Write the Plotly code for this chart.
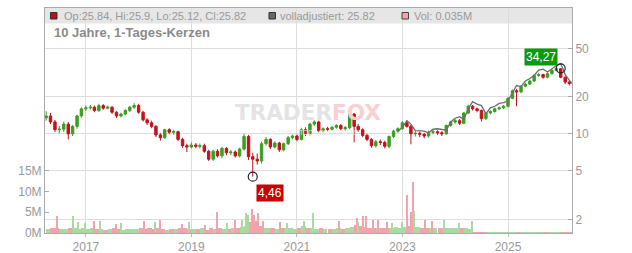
import plotly.graph_objects as go
import pandas as pd
import math

# ---------------- data (monthly candles) ----------------
months = pd.date_range("2016-04-01", "2026-03-01", freq="MS")

open_ = [13.5,14.0,12.5,10.8,10.9,12.0,10.0,11.5,14.0,
         16.0,16.3,16.5,15.5,17.0,16.2,16.5,15.0,14.0,14.5,15.5,16.5,
         17.0,15.0,13.0,12.3,11.5,9.8,9.3,10.8,10.3,10.4,9.0,8.0,
         7.8,8.1,7.9,8.0,7.2,6.2,7.2,6.6,7.6,7.0,7.1,6.6,
         7.5,9.5,6.5,6.2,6.0,8.3,9.0,7.8,8.4,7.4,8.3,9.3,
         9.6,9.0,10.8,10.0,12.0,12.5,10.6,11.0,10.9,11.3,11.7,11.0,
         11.2,14.5,11.5,10.8,9.7,9.0,8.0,8.6,8.5,7.9,9.5,10.5,
         11.0,12.3,11.5,10.0,10.1,9.9,9.6,10.3,10.4,10.2,10.0,11.7,
         12.5,12.8,12.2,14.8,16.8,16.0,15.5,13.3,14.8,15.2,16.0,16.3,
         16.8,19.5,22.5,22.0,24.5,25.5,27.0,30.0,30.5,29.0,31.0,33.0,
         34.0,29.0,26.5]
close = [14.0,12.5,10.8,10.9,12.0,10.0,11.5,14.0,16.0,
         16.3,16.5,15.5,17.0,16.2,16.5,15.0,14.0,14.5,15.5,16.5,17.0,
         15.0,13.0,12.3,11.5,9.8,9.3,10.8,10.3,10.4,9.0,8.0,7.8,
         8.1,7.9,8.0,7.2,6.2,7.2,6.6,7.6,7.0,7.1,6.6,7.5,
         9.5,6.5,6.2,6.0,8.3,9.0,7.8,8.4,7.4,8.3,9.3,9.6,
         9.0,10.8,10.0,12.0,12.5,10.6,11.0,10.9,11.3,11.7,11.0,11.2,
         14.5,11.5,10.8,9.7,9.0,8.0,8.6,8.5,7.9,9.5,10.5,11.0,
         12.3,11.5,10.0,10.1,9.9,9.6,10.3,10.4,10.2,10.0,11.7,12.5,
         12.8,12.2,14.8,16.8,16.0,15.5,13.3,14.8,15.2,16.0,16.3,16.8,
         19.5,22.5,22.0,24.5,25.5,27.0,30.0,30.5,29.0,31.0,33.0,34.0,
         29.0,26.5,25.82]
high = [15.3,14.8,13.0,11.6,12.6,12.5,11.8,14.3,16.5,
        17.0,17.2,17.0,17.6,17.5,17.0,16.8,15.3,14.9,15.9,16.9,17.8,
        17.6,15.4,13.4,12.8,11.8,10.1,11.0,11.1,10.8,10.6,9.3,8.3,
        8.5,8.4,8.3,8.3,7.4,7.4,7.5,7.8,7.8,7.4,7.3,7.7,
        10.0,9.8,7.0,6.9,8.6,9.4,9.2,8.7,8.6,8.5,9.6,9.9,
        10.0,11.2,11.3,12.3,12.9,12.8,11.3,11.4,11.6,12.0,12.0,11.6,
        15.1,14.8,12.0,11.1,10.0,9.2,8.9,9.0,8.8,9.7,10.8,11.3,
        12.7,12.8,11.8,10.5,10.4,10.2,10.6,10.8,10.7,10.5,11.9,12.8,
        13.2,13.2,15.1,17.3,17.2,16.4,15.8,15.1,15.6,16.4,16.7,17.2,
        20.0,23.0,23.3,25.0,26.2,27.8,30.8,31.5,31.0,31.8,33.6,33.8,
        34.27,29.5,27.0]
low = [12.8,12.0,10.3,10.1,10.3,9.0,9.6,11.0,13.5,
       15.4,15.8,15.0,15.1,15.7,15.8,14.6,13.5,13.6,14.2,15.1,16.0,
       14.6,12.6,11.8,11.1,9.4,8.8,9.1,9.9,9.8,8.7,7.7,7.1,
       7.6,7.6,7.6,7.0,6.0,6.0,6.4,6.3,6.7,6.7,6.4,6.4,
       7.3,6.1,4.46,5.6,5.7,8.0,7.5,7.6,7.1,7.2,8.1,9.0,
       8.7,8.8,9.6,9.7,11.6,10.3,10.3,10.5,10.6,11.0,10.7,10.6,
       10.9,8.5,10.4,9.4,8.7,7.7,7.7,8.1,7.6,7.6,9.2,10.2,
       10.8,11.2,8.2,9.5,9.4,9.2,9.3,9.9,9.8,9.6,9.8,11.4,
       12.1,11.8,12.0,14.5,15.5,15.0,12.6,13.0,14.4,14.9,15.6,15.9,
       16.5,19.2,16.8,21.5,24.0,25.0,26.6,29.2,28.2,28.5,30.4,32.5,
       28.5,25.5,24.8]
# typical daily volume per month, in millions
vol_month = [1.0,1.2,1.1,0.9,1.0,1.3,1.1,1.0,1.1,
             1.0,1.2,0.9,1.0,0.8,0.9,1.1,1.0,0.8,0.9,1.0,0.9,
             1.1,1.0,1.2,1.0,1.1,0.9,0.8,0.9,1.0,1.1,1.2,1.0,
             0.9,1.0,1.1,0.8,1.2,1.0,1.1,0.9,1.0,1.1,1.2,1.4,
             1.8,2.6,3.0,1.8,1.3,1.2,1.1,1.0,1.1,1.2,1.1,1.0,
             1.2,1.6,1.3,1.1,1.0,1.1,1.0,0.9,1.0,1.1,1.0,1.2,
             1.4,1.9,1.7,1.5,1.3,1.2,1.1,1.2,1.3,1.1,1.4,1.2,
             1.5,1.6,3.0,1.4,1.3,1.2,1.3,1.1,1.2,1.3,1.1,1.2,
             1.3,1.2,1.1,0.9,0.15,0.1,0.12,0.1,0.15,0.1,0.1,0.12,
             0.1,0.15,0.1,0.12,0.1,0.1,0.1,0.1,0.12,0.1,0.1,0.1,
             0.12,0.1,0.1]
# single high-volume days (millions), direction +1 up / -1 down
spike_dates = ["2016-06-18","2016-10-01","2016-11-10","2016-12-28","2017-02-28","2017-04-08",
               "2017-07-27","2017-09-05","2018-02-06","2018-04-23","2018-05-30","2018-10-26",
               "2018-12-16","2019-04-05","2019-06-28","2019-09-02","2019-10-30","2019-12-20",
               "2020-01-15","2020-01-30","2020-02-28","2020-03-13","2020-04-08","2020-05-15",
               "2020-09-05","2020-10-23","2021-02-17","2021-04-20","2021-10-23","2022-02-21",
               "2022-02-28","2022-04-05","2022-04-23","2022-06-13","2022-07-20","2022-09-20",
               "2022-10-23","2022-12-28","2023-02-02","2023-03-03","2023-03-18","2023-03-25",
               "2023-06-10","2023-07-24","2023-10-19","2024-01-30","2024-04-27"]
spike_vol = [4.2,4.2,2.6,2.4,3.0,3.0,2.2,2.4,3.0,2.6,3.2,2.2,2.6,2.0,5.0,2.4,3.2,3.2,
             4.8,4.4,5.9,4.4,4.8,2.8,2.6,2.4,2.8,4.8,3.0,3.7,2.7,4.0,4.2,3.2,3.2,2.6,
             2.4,2.6,9.1,5.1,12.4,5.3,3.2,3.0,3.2,2.4,3.0]
spike_dir = [-1,1,1,1,-1,1,-1,1,-1,1,-1,-1,1,-1,-1,1,-1,1,
             1,1,-1,-1,-1,-1,-1,1,1,1,-1,-1,1,-1,-1,-1,-1,-1,
             1,1,-1,-1,-1,1,-1,-1,1,1,1]
# fully adjusted close ("volladjustiert")
adj_dates = list(pd.date_range("2022-12-01", "2026-03-01", freq="MS").strftime("%Y-%m-%d")) + ["2026-03-20"]
adj_vals = [10.5,11.3,12.8,12.0,10.6,10.6,10.5,10.2,10.9,11.0,10.9,10.7,12.5,
            13.4,13.8,13.1,16.0,18.3,17.5,17.0,14.6,16.3,16.8,17.7,18.0,
            18.6,21.6,24.8,24.3,27.0,28.3,30.0,33.2,33.8,32.0,34.0,36.0,
            37.5,30.5,27.5,25.82]

year_ticks = ["2017-01-01", "2019-01-01", "2021-01-01", "2023-01-01", "2025-01-01"]
year_labels = ["2017", "2019", "2021", "2023", "2025"]
price_ticks = [2, 5, 10, 20, 50]
vol_ticks = [0, 5e6, 10e6, 15e6]
vol_labels = ["0M", "5M", "10M", "15M"]

# ---------------- styles ----------------
UP, DOWN = "#3a9f22", "#c4121a"
VUP, VDOWN = "#a9dba0", "#f2a3ab"
GRAY = "#999999"
FONT = "Liberation Sans, Arial, sans-serif"
DAY = 86400000

fig = go.Figure()

fig.add_trace(go.Bar(
    x=months, y=[v * 1e6 for v in vol_month],
    marker=dict(color=[VUP if c >= o else VDOWN for o, c in zip(open_, close)], line_width=0),
    width=30.4 * DAY, offset=0, yaxis="y", hoverinfo="skip"))
fig.add_trace(go.Bar(
    x=spike_dates, y=[v * 1e6 for v in spike_vol],
    marker=dict(color=[VUP if d > 0 else VDOWN for d in spike_dir], line_width=0),
    width=8 * DAY, yaxis="y", hoverinfo="skip"))

fig.add_trace(go.Scatter(
    x=adj_dates, y=adj_vals, mode="lines", line=dict(color="#6e6e6e", width=1.3),
    yaxis="y2", hoverinfo="skip"))

fig.add_trace(go.Candlestick(
    x=months, open=open_, high=high, low=low, close=close, yaxis="y2",
    increasing=dict(line=dict(color=UP, width=1), fillcolor=UP),
    decreasing=dict(line=dict(color=DOWN, width=1), fillcolor=DOWN),
    whiskerwidth=0, hoverinfo="skip"))

imax = max(range(len(high)), key=lambda i: high[i])
imin = min(range(len(low)), key=lambda i: low[i])
fig.add_trace(go.Scatter(
    x=[months[imax], months[imin]], y=[high[imax], low[imin]], mode="markers",
    marker=dict(symbol="circle-open", size=9, color="#222222", line=dict(width=1.2)),
    yaxis="y2", hoverinfo="skip"))

def fmt(v):
    return f"{v:.2f}".replace(".", ",")

annotations = [
    dict(x=months[imax], y=math.log10(high[imax]), xref="x", yref="y2",
         text=fmt(high[imax]), showarrow=False, xanchor="right", yanchor="bottom",
         xshift=-3, yshift=2, bgcolor="#0a9a0a", borderpad=1,
         font=dict(family=FONT, size=12, color="white")),
    dict(x=months[imin], y=math.log10(low[imin]), xref="x", yref="y2",
         text=fmt(low[imin]), showarrow=False, xanchor="left", yanchor="top",
         xshift=3, yshift=-7, bgcolor="#cc0000", borderpad=1,
         font=dict(family=FONT, size=12, color="white")),
    # watermark
    dict(x=0.499, y=0.4711, xref="paper", yref="paper", showarrow=False,
         xanchor="center", yanchor="bottom",
         text="<b>TRADER<span style='color:#f9cfd2'>FOX</span></b>",
         font=dict(family="DejaVu Sans", size=21.5, color="#e4e4e4")),
    dict(x=0.499, y=0.4711, xref="paper", yref="paper", showarrow=False,
         xanchor="center", yanchor="top",
         text="REALTIME STOCK SCREENER",
         font=dict(family=FONT, size=6.5, color="#ececec")),
    # header / legend
    dict(x=0.0323, y=0.9644, xref="paper", yref="paper", showarrow=False,
         xanchor="left", yanchor="middle", text="Op:25.84, Hi:25.9, Lo:25.12, Cl:25.82",
         font=dict(family=FONT, size=11, color=GRAY)),
    dict(x=0.4421, y=0.9644, xref="paper", yref="paper", showarrow=False,
         xanchor="left", yanchor="middle", text="volladjustiert: 25.82",
         font=dict(family=FONT, size=11, color=GRAY)),
    dict(x=0.6964, y=0.9644, xref="paper", yref="paper", showarrow=False,
         xanchor="left", yanchor="middle", text="Vol: 0.035M",
         font=dict(family=FONT, size=11, color=GRAY)),
    dict(x=0.0133, y=0.8889, xref="paper", yref="paper", showarrow=False,
         xanchor="left", yanchor="middle", text="<b>10 Jahre, 1-Tages-Kerzen</b>",
         font=dict(family=FONT, size=13, color="#8a8a8a")),
]

shapes = [
    dict(type="rect", xref="paper", yref="paper", x0=0, x1=1, y0=0.9311, y1=1,
         fillcolor="#e6e6e6", line=dict(width=0), layer="below"),
    dict(type="rect", xref="paper", yref="paper", x0=0.0104, x1=0.0228, y0=0.951, y1=0.98,
         fillcolor="#b3141a", line=dict(color="#333333", width=1)),
    dict(type="rect", xref="paper", yref="paper", x0=0.425, x1=0.4374, y0=0.951, y1=0.98,
         fillcolor="#666666", line=dict(color="#333333", width=1)),
    dict(type="rect", xref="paper", yref="paper", x0=0.6774, x1=0.6898, y0=0.951, y1=0.98,
         fillcolor="#f2a3ab", line=dict(color="#444444", width=1)),
]

fig.update_layout(
    width=632, height=253, margin=dict(l=45, r=60, t=8, b=20, autoexpand=False),
    paper_bgcolor="white", plot_bgcolor="white", showlegend=False,
    barmode="overlay", bargap=0, boxgap=0.15,
    font=dict(family=FONT, size=12, color=GRAY),
    xaxis=dict(type="date", range=["2016-03-24", "2026-03-20"],
               tickvals=year_ticks, ticktext=year_labels, automargin=False,
               showgrid=True, gridcolor="#dddddd", gridwidth=1,
               ticks="outside", ticklen=3, tickcolor="#bbbbbb",
               showline=True, linecolor="#aaaaaa", mirror=True,
               tickfont=dict(family=FONT, size=12, color=GRAY),
               rangeslider=dict(visible=False), fixedrange=True),
    yaxis=dict(range=[0, 54.2e6], tickvals=vol_ticks, ticktext=vol_labels,
               showgrid=False, zeroline=False, side="left", automargin=False,
               ticks="inside", ticklen=4, tickcolor="#aaaaaa",
               showline=True, linecolor="#aaaaaa",
               tickfont=dict(family=FONT, size=12, color=GRAY), fixedrange=True),
    yaxis2=dict(type="log", overlaying="y", side="right", range=[0.189, 2.0285],
                tickvals=price_ticks, ticktext=[str(v) for v in price_ticks],
                showgrid=True, gridcolor="#dddddd", gridwidth=1, zeroline=False,
                automargin=False,
                ticks="inside", ticklen=4, tickcolor="#aaaaaa",
                showline=True, linecolor="#aaaaaa",
                tickfont=dict(family=FONT, size=12, color=GRAY), fixedrange=True),
    annotations=annotations, shapes=shapes,
)

fig.write_html("out.html")
